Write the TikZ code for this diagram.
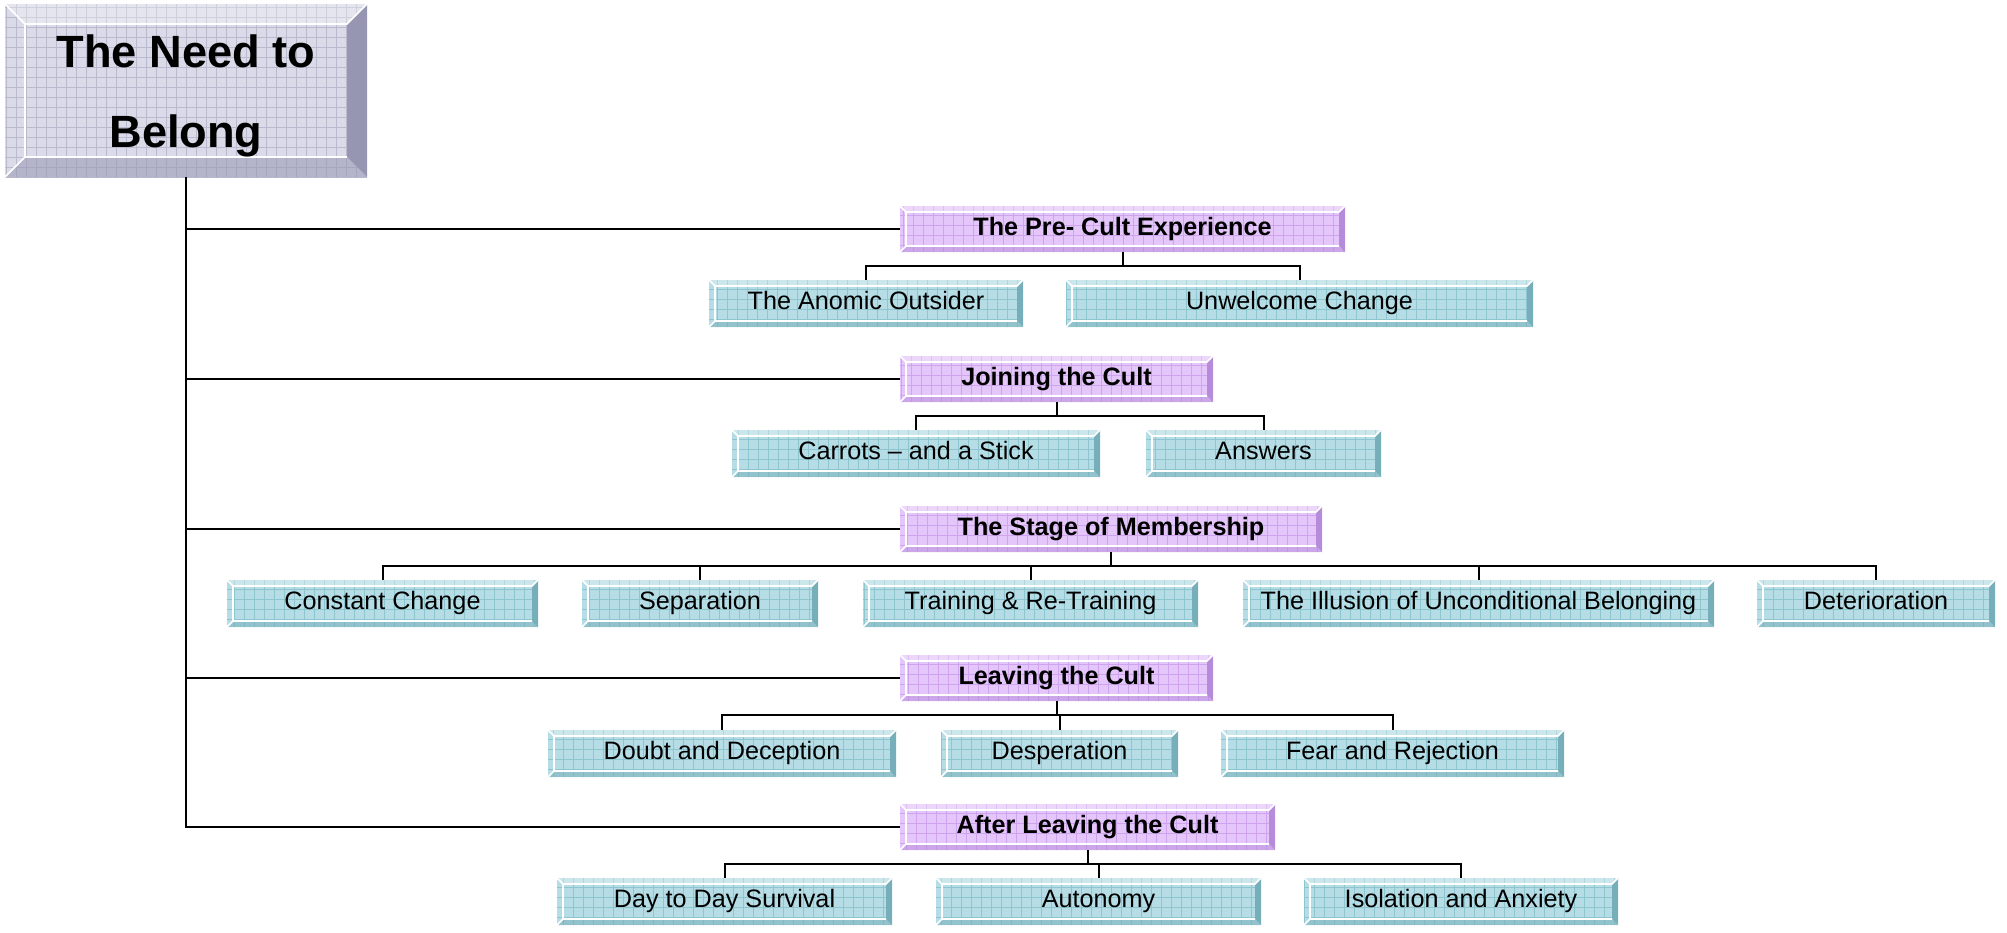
\documentclass[tikz,border=0pt]{standalone}
\usepackage{fontspec}
\setmainfont{Liberation Sans}
\definecolor{tealfill}{RGB}{182,221,229}
\definecolor{tealgrid}{RGB}{142,198,208}
\definecolor{tealdark}{RGB}{118,174,186}
\definecolor{lilafill}{RGB}{229,198,250}
\definecolor{lilagrid}{RGB}{206,164,238}
\definecolor{liladark}{RGB}{182,140,218}
\definecolor{headfill}{RGB}{218,218,232}
\definecolor{headgrid}{RGB}{186,186,206}
\definecolor{headdark}{RGB}{150,150,178}
\newcommand\bevelfill[3]{%
	\coordinate (q1) at (path picture bounding box.south west);
	\coordinate (q2) at (path picture bounding box.south east);
	\coordinate (q3) at (path picture bounding box.north east);
	\coordinate (q4) at (path picture bounding box.north west);
	\coordinate (i1) at ([shift={(#3,#3)}]q1);
	\coordinate (i2) at ([shift={(-#3,#3)}]q2);
	\coordinate (i3) at ([shift={(-#3,-#3)}]q3);
	\coordinate (i4) at ([shift={(#3,-#3)}]q4);
	\draw[#1, line width=.4pt, step=5pt] (q1) grid (q3);
	\fill[#2, opacity=.55] (q1) -- (q2) -- (i2) -- (i1) -- cycle;
	\fill[#2] (q2) -- (q3) -- (i3) -- (i2) -- cycle;
	\fill[white, opacity=.3] (q4) -- (q3) -- (i3) -- (i4) -- cycle;
	\draw[white, line width=.8pt] (q4) -- (i4) -- (i1) -- (q1) (i1) -- (i2) (i4) -- (i3) -- (q3);
}
\tikzset{
	bevelbox/.style n args={4}{fill=#1, inner sep=0pt, path picture={\bevelfill{#2}{#3}{#4}}},
	boxw/.style={minimum width=#1*0.5pt},
	head/.style={bevelbox={headfill}{headgrid}{headdark}{10pt}, minimum height=86.5pt, align=center, text height=56.5pt, text depth=0pt, font=\fontsize{22.6}{40}\selectfont\bfseries},
	stage/.style={bevelbox={lilafill}{lilagrid}{liladark}{3pt}, minimum height=23pt, text height=9pt, text depth=3pt, font=\fontsize{12.6}{15}\selectfont\bfseries},
	item/.style={bevelbox={tealfill}{tealgrid}{tealdark}{3pt}, minimum height=23.5pt, text height=9pt, text depth=3pt, font=\fontsize{12.6}{15}\selectfont},
	link/.style={draw=black, line width=1pt},
}
\begin{document}
\begin{tikzpicture}[x=0.5pt,y=-0.5pt]
	\useasboundingbox (0,0) rectangle (2007,932);
	\node[head, boxw=362] (need) at (186,90.5) {The Need to\\Belong};
	% stages
	\node[stage, boxw=445] (pre) at (1122.5,229) {The Pre- Cult Experience};
	\node[stage, boxw=313] (join) at (1056.5,379) {Joining the Cult};
	\node[stage, boxw=422] (memb) at (1111,529) {The Stage of Membership};
	\node[stage, boxw=313] (leave) at (1056.5,678) {Leaving the Cult};
	\node[stage, boxw=375] (after) at (1087.5,827) {After Leaving the Cult};
	% items
	\node[item, boxw=314] (anomic) at (866,303.5) {The Anomic Outsider};
	\node[item, boxw=467] (unwel) at (1299.5,303.5) {Unwelcome Change};
	\node[item, boxw=368] (carrot) at (916,453.5) {Carrots -- and a Stick};
	\node[item, boxw=235] (answ) at (1263.5,453.5) {Answers};
	\node[item, boxw=311] (const) at (382.5,603.5) {Constant Change};
	\node[item, boxw=236] (separ) at (700,603.5) {Separation};
	\node[item, boxw=335] (train) at (1030.5,603.5) {Training \& Re-Training};
	\node[item, boxw=471] (illus) at (1478.5,603.5) {The Illusion of Unconditional Belonging};
	\node[item, boxw=238] (deter) at (1876,603.5) {Deterioration};
	\node[item, boxw=348] (doubt) at (722,753.5) {Doubt and Deception};
	\node[item, boxw=237] (desp) at (1059.5,753.5) {Desperation};
	\node[item, boxw=343] (fear) at (1392.5,753.5) {Fear and Rejection};
	\node[item, boxw=335] (daily) at (724.5,901.5) {Day to Day Survival};
	\node[item, boxw=325] (auto) at (1098.5,901.5) {Autonomy};
	\node[item, boxw=314] (isol) at (1461,901.5) {Isolation and Anxiety};
	% links
	\draw[link] (need.south) |- (after.west);
	\foreach \s in {pre,join,memb,leave}
		\draw[link] (need.south |- \s.west) -- (\s.west);
	\foreach \c in {anomic,unwel}
		\draw[link] (pre.south) -- ++(0,14) -| (\c.north);
	\foreach \c in {carrot,answ}
		\draw[link] (join.south) -- ++(0,14) -| (\c.north);
	\foreach \c in {const,separ,train,illus,deter}
		\draw[link] (memb.south) -- ++(0,14) -| (\c.north);
	\foreach \c in {doubt,desp,fear}
		\draw[link] (leave.south) -- ++(0,14) -| (\c.north);
	\foreach \c in {daily,auto,isol}
		\draw[link] (after.south) -- ++(0,14) -| (\c.north);
\end{tikzpicture}
\end{document}
